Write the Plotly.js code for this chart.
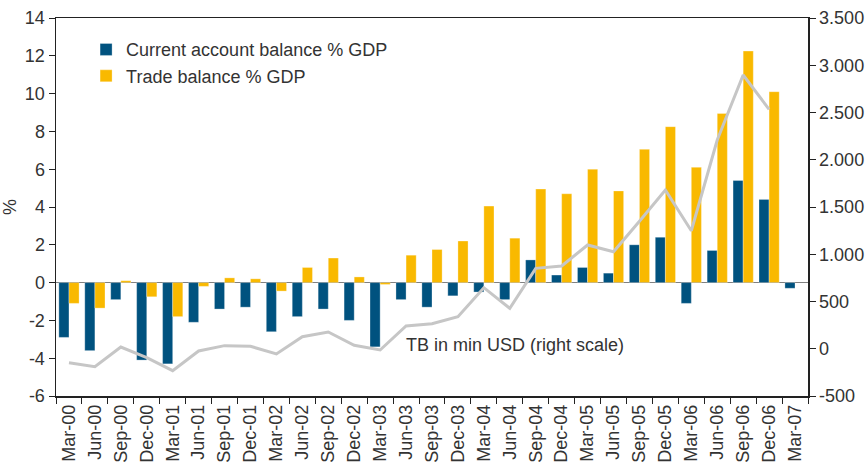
<!DOCTYPE html>
<html>
<head>
<meta charset="utf-8">
<script src="https://cdn.plot.ly/plotly-3.0.1.min.js"></script>
<style>html,body{margin:0;padding:0;background:#fff;}#chart{width:865px;height:464px;}</style>
</head>
<body>
<div id="chart"></div>
<script>
const quarters = ["Mar-00","Jun-00","Sep-00","Dec-00","Mar-01","Jun-01","Sep-01","Dec-01","Mar-02","Jun-02","Sep-02","Dec-02","Mar-03","Jun-03","Sep-03","Dec-03","Mar-04","Jun-04","Sep-04","Dec-04","Mar-05","Jun-05","Sep-05","Dec-05","Mar-06","Jun-06","Sep-06","Dec-06","Mar-07"];
const currentAccount = [-2.9,-3.6,-0.9,-4.1,-4.3,-2.1,-1.4,-1.3,-2.6,-1.8,-1.4,-2.0,-3.4,-0.9,-1.3,-0.7,-0.5,-0.9,1.2,0.4,0.8,0.5,2.0,2.4,-1.1,1.7,5.4,4.4,-0.3];
const tradeBalance = [-1.1,-1.35,0.1,-0.75,-1.8,-0.2,0.25,0.2,-0.45,0.8,1.3,0.3,-0.1,1.45,1.75,2.2,4.05,2.35,4.95,4.7,6.0,4.85,7.05,8.25,6.1,8.95,12.25,10.1,null];
const tbMlnUsd = [-148,-190,18,-94,-232,-24,33,26,-55,128,177,36,-13,241,265,339,646,428,851,876,1098,1027,1350,1680,1249,2209,2897,2534,null];
const leftTicks = [-6,-4,-2,0,2,4,6,8,10,12,14];
const leftTickText = ["-6","-4","-2","0","2","4","6","8","10","12","14"];
const rightTicks = [-500,0,500,1000,1500,2000,2500,3000,3500];
const rightTickText = ["-500","0","500","1.000","1.500","2.000","2.500","3.000","3.500"];

const fontFam = "Liberation Sans, Arial, sans-serif";
const txtCol = "#333333";
const fs = 18;

const traces = [
  {type:"bar", name:"Current account balance % GDP", x:quarters, y:currentAccount,
   marker:{color:"#00527F", line:{color:"rgba(255,255,255,0.5)", width:0.6}}},
  {type:"bar", name:"Trade balance % GDP", x:quarters, y:tradeBalance,
   marker:{color:"#F9B900", line:{color:"rgba(255,255,255,0.5)", width:0.6}}},
  {type:"scatter", mode:"lines", name:"TB in min USD (right scale)", x:quarters, y:tbMlnUsd,
   yaxis:"y2", showlegend:false, line:{color:"#C6C6C6", width:3}, connectgaps:false}
];

const layout = {
  width:865, height:464,
  margin:{l:56, r:57, t:18, b:68},
  paper_bgcolor:"#fff", plot_bgcolor:"#fff",
  font:{family:fontFam, size:fs, color:txtCol},
  barmode:"group", bargap:0.22, bargroupgap:0,
  showlegend:true,
  legend:{x:0.04, y:0.965, xanchor:"left", yanchor:"top", bgcolor:"rgba(0,0,0,0)",
          font:{family:fontFam, size:fs, color:txtCol}, itemwidth:30, tracegroupgap:0},
  xaxis:{type:"category", showgrid:false, showline:true, linecolor:"#222", linewidth:1.5,
         mirror:true, ticks:"outside", tickson:"boundaries", ticklen:6, tickcolor:"#222",
         tickangle:-90, tickfont:{family:fontFam, size:fs, color:txtCol}, automargin:false},
  yaxis:{range:[-6,14], tickvals:leftTicks, ticktext:leftTickText, showgrid:false,
         showline:true, linecolor:"#222", linewidth:1.5, ticks:"outside", ticklen:6, tickcolor:"#222",
         zeroline:true, zerolinecolor:"#808080", zerolinewidth:1.5,
         title:{text:"%", font:{family:fontFam, size:fs, color:txtCol}, standoff:4},
         tickfont:{family:fontFam, size:fs, color:txtCol}, automargin:false},
  yaxis2:{range:[-500,3500], overlaying:"y", side:"right", tickvals:rightTicks, ticktext:rightTickText,
          showgrid:false, zeroline:false, showline:true, linecolor:"#222", linewidth:1.5,
          ticks:"outside", ticklen:6, tickcolor:"#222",
          tickfont:{family:fontFam, size:fs, color:txtCol}, automargin:false},
  annotations:[{text:"TB in min USD (right scale)", xref:"paper", yref:"paper",
                x:0.463, y:0.135, xanchor:"left", yanchor:"middle", showarrow:false,
                font:{family:fontFam, size:fs, color:txtCol}}]
};

Plotly.newPlot("chart", traces, layout, {displayModeBar:false, staticPlot:true});
</script>
</body>
</html>
